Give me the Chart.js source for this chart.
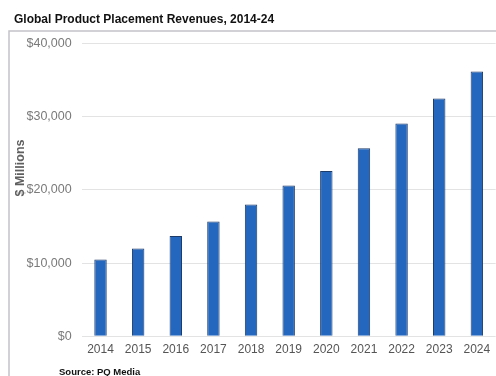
<!DOCTYPE html>
<html>
<head>
<meta charset="utf-8">
<script src="https://cdn.jsdelivr.net/npm/chart.js@4/dist/chart.umd.min.js"></script>
<style>
  html, body { margin: 0; padding: 0; background: #ffffff; }
  #wrap { width: 496px; height: 376px; position: relative; }
</style>
</head>
<body>
<div id="wrap"><canvas id="placementChart" width="496" height="376"></canvas></div>
<script>
// Revenue by year, $ millions
var years = ['2014', '2015', '2016', '2017', '2018', '2019', '2020', '2021', '2022', '2023', '2024'];
var revenues = [10500, 12000, 13700, 15700, 18000, 20600, 22600, 25700, 29100, 32500, 36200];
var tickValues = [0, 10000, 20000, 30000, 40000];

var chartTitle = 'Global Product Placement Revenues, 2014-24';
var axisTitle = '$ Millions';
var sourceNote = 'Source: PQ Media';

var fontFamily = '"Liberation Sans", Arial, Helvetica, sans-serif';

// frame, heading, rotated axis label and source line
var decorations = {
  id: 'decorations',
  beforeDraw: function(chart) {
    var ctx = chart.ctx;
    ctx.save();
    ctx.fillStyle = '#ffffff';
    ctx.fillRect(0, 0, chart.width, chart.height);
    ctx.strokeStyle = '#c3c3c9';
    ctx.lineWidth = 1.5;
    ctx.strokeRect(9, 31, chart.width + 10, chart.height + 10);
    ctx.restore();
  },
  afterDraw: function(chart) {
    var ctx = chart.ctx;
    ctx.save();
    ctx.fillStyle = '#111111';
    ctx.font = 'bold 12px ' + fontFamily;
    ctx.textBaseline = 'alphabetic';
    ctx.textAlign = 'left';
    ctx.fillText(chartTitle, 14, 22.5);

    ctx.fillStyle = '#111111';
    ctx.font = 'bold 9.5px ' + fontFamily;
    ctx.fillText(sourceNote, 59, 374.5);

    ctx.translate(21, 168);
    ctx.rotate(-Math.PI / 2);
    ctx.textAlign = 'center';
    ctx.textBaseline = 'middle';
    ctx.fillStyle = '#5f5f5f';
    ctx.font = 'bold 12.5px ' + fontFamily;
    ctx.fillText(axisTitle, 0, 0);
    ctx.restore();
  }
};

var ctx = document.getElementById('placementChart').getContext('2d');
var chart = new Chart(ctx, {
  type: 'bar',
  data: {
    labels: years,
    datasets: [{
      data: revenues,
      backgroundColor: '#2467bf',
      borderColor: '#1c3b69',
      borderWidth: 1,
      barPercentage: 0.33,
      categoryPercentage: 1.0
    }]
  },
  options: {
    responsive: false,
    animation: false,
    layout: { padding: { left: 9, top: 43.7, right: 0, bottom: 13.8 } },
    plugins: {
      legend: { display: false },
      tooltip: { enabled: false }
    },
    scales: {
      x: {
        grid: { display: false, drawTicks: false },
        border: { display: false },
        ticks: {
          color: '#555555',
          padding: 5.8,
          maxRotation: 0,
          font: { family: fontFamily, size: 12 }
        }
      },
      y: {
        min: 0,
        max: 40000,
        afterFit: function(scale) { scale.width = 72.7; },
        afterBuildTicks: function(scale) {
          scale.ticks = tickValues.map(function(v) { return { value: v }; });
        },
        grid: { color: '#e3e3e3', lineWidth: 1, drawTicks: false },
        border: { display: false },
        ticks: {
          color: '#7a7a7a',
          padding: 10,
          font: { family: fontFamily, size: 12.5 },
          callback: function(v) { return '$' + v.toLocaleString('en-US'); }
        }
      }
    }
  },
  plugins: [decorations]
});
</script>
</body>
</html>
